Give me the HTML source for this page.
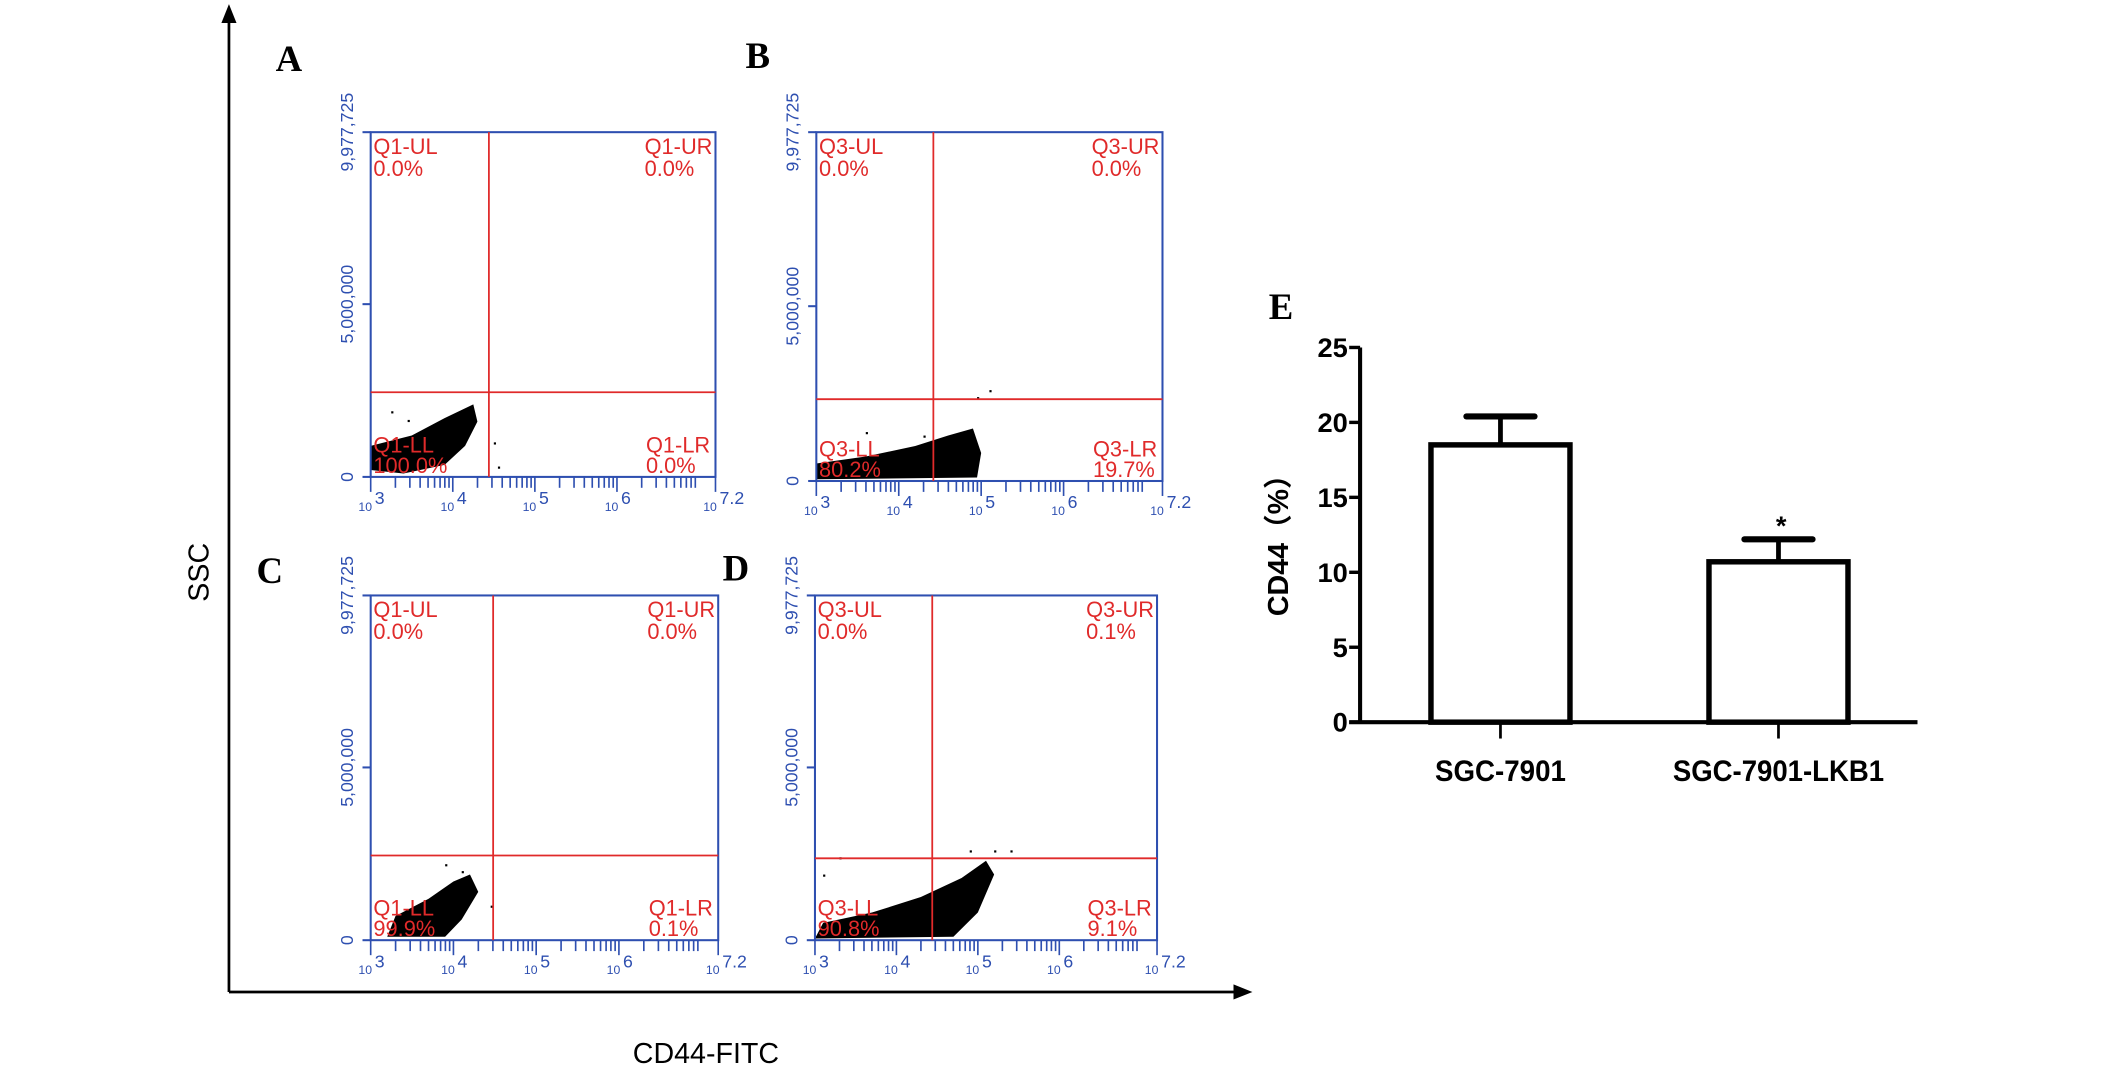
<!DOCTYPE html>
<html><head><meta charset="utf-8"><style>
html,body{margin:0;padding:0;background:#fff;}
svg{display:block;}
</style></head><body>
<svg id="fig" width="2126" height="1071" viewBox="0 0 1560 786" preserveAspectRatio="none" xmlns="http://www.w3.org/2000/svg">
<defs><marker id="arr" viewBox="0 0 10 10" refX="5" refY="5" markerWidth="7" markerHeight="9" orient="auto-start-reverse"><path d="M0,1 L10,5 L0,9 z" fill="#000"/></marker></defs>
<line x1="168" y1="728" x2="168" y2="10" stroke="#000" stroke-width="2" marker-end="url(#arr)"/>
<line x1="168" y1="728" x2="912" y2="728" stroke="#000" stroke-width="2" marker-end="url(#arr)"/>
<text transform="translate(153,420) rotate(-90)" text-anchor="middle" font-family="Liberation Sans, sans-serif" font-size="21">SSC</text>
<text x="518" y="780" text-anchor="middle" font-family="Liberation Sans, sans-serif" font-size="21">CD44-FITC</text>
<g id="panels"></g>
<g id="barchart"></g>
</svg>
<script>
const NS='http://www.w3.org/2000/svg';
const panelLetters=['A','B','C','D'];
const quadPrefix=['Q1','Q3','Q1','Q3'];
const quadUL=['0.0%','0.0%','0.0%','0.0%'];
const quadUR=['0.0%','0.0%','0.0%','0.1%'];
const quadLL=['100.0%','80.2%','99.9%','90.8%'];
const quadLR=['0.0%','19.7%','0.1%','9.1%'];
const gateX=[4.44,4.42,4.48,4.44];
const gateY=[2.45,2.34,2.45,2.37];
const cloudA=[[3.0,0.2],[3.0,0.9],[3.5,1.2],[3.9,1.7],[4.25,2.1],[4.3,1.6],[4.15,0.9],[3.9,0.35],[3.4,0.1]];
const cloudB=[[3.0,0.05],[3.0,0.5],[3.6,0.7],[4.2,1.0],[4.6,1.3],[4.9,1.5],[5.0,0.8],[4.95,0.1]];
const cloudC=[[3.2,0.1],[3.3,0.7],[3.7,1.2],[4.0,1.7],[4.2,1.9],[4.3,1.4],[4.1,0.6],[3.9,0.1]];
const cloudD=[[3.0,0.05],[3.1,0.5],[3.7,0.8],[4.3,1.25],[4.8,1.8],[5.1,2.3],[5.2,1.9],[5.0,0.8],[4.7,0.1]];
const clouds=[cloudA,cloudB,cloudC,cloudD];
const strayPts=[[[3.25,1.9],[3.45,1.65],[4.5,1.0],[4.55,0.3]],[[3.6,1.4],[4.3,1.3],[4.95,2.4],[5.1,2.6]],[[4.45,1.0],[4.1,2.0],[3.9,2.2]],[[3.1,1.9],[3.3,2.4],[4.9,2.6],[5.2,2.6],[5.4,2.6]]];
const xTickLabels=['3','4','5','6','7.2'];
const xTickVals=[3,4,5,6,7.2];
const yTickLabels=['0','5,000,000','9,977,725'];
const yTickVals=[0,5,9.977725];
const boxes=[[272,97,525,350],[599,97,853,353],[272,437,527,690],[598,437,849,690]];
const letterPos=[[212,52],[556,50],[198,428],[540,426]];

const g=document.getElementById('panels');
function mk(tag,attrs,parent){const e=document.createElementNS(NS,tag);for(const k in attrs)e.setAttribute(k,attrs[k]);(parent||g).appendChild(e);return e;}
const blue='#2e4fb0',red='#e02a2a';
boxes.forEach((b,i)=>{
  const [x0,y0,x1,y1]=b;
  const sx=v=>x0+(v-3)/4.2*(x1-x0);
  const sy=v=>y1-v/9.977725*(y1-y0);
  const pg=mk('g',{});
  
  
  const lt=mk('text',{x:letterPos[i][0],y:letterPos[i][1],'text-anchor':'middle','font-family':'Liberation Serif, serif','font-weight':'bold','font-size':'27'},pg);
  lt.textContent=panelLetters[i];
  
  
  const poly=mk('polygon',{points:clouds[i].map(p=>sx(p[0])+','+sy(p[1])).join(' '),fill:'#000'},pg);
  
  
  strayPts[i].forEach(p=>{const r=mk('rect',{x:sx(p[0]),y:sy(p[1]),width:1.6,height:1.6,fill:'#000'},pg);
    });
  const frame=mk('rect',{x:x0,y:y0,width:x1-x0,height:y1-y0,fill:'none',stroke:blue,'stroke-width':1.5},pg);
  
  const gv=mk('line',{x1:sx(gateX[i]),y1:y0,x2:sx(gateX[i]),y2:y1,stroke:red,'stroke-width':1.3},pg);
  
  const gh=mk('line',{x1:x0,y1:sy(gateY[i]),x2:x1,y2:sy(gateY[i]),stroke:red,'stroke-width':1.3},pg);
  
  const q=quadPrefix[i];
  const labs=[[x0+2,y0+16,q+'-UL'],[x0+2,y0+32,quadUL[i]],[x1-52,y0+16,q+'-UR'],[x1-52,y0+32,quadUR[i]],
    [x0+2,y1-18,q+'-LL'],[x0+2,y1-3,quadLL[i]],[x1-51,y1-18,q+'-LR'],[x1-51,y1-3,quadLR[i]]];
  labs.forEach(l=>{const t=mk('text',{x:l[0],y:l[1],'text-anchor':'start','font-family':'Liberation Sans, sans-serif','font-size':'16',fill:red},pg);
    t.textContent=l[2];});
  yTickVals.forEach((v,k)=>{mk('line',{x1:x0-6,y1:sy(v),x2:x0,y2:sy(v),stroke:blue,'stroke-width':1.5},pg);
    const t=mk('text',{transform:`translate(${x0-13},${sy(v)}) rotate(-90)`,'text-anchor':'middle','font-family':'Liberation Sans, sans-serif','font-size':'13',fill:blue},pg);
    t.textContent=yTickLabels[k];});
  for(let d=3;d<7;d++){for(let m=1;m<10;m++){const lv=d+Math.log10(m);if(lv>7.2)break;
    mk('line',{x1:sx(lv),y1:y1,x2:sx(lv),y2:y1+(m==1?11:8),stroke:blue,'stroke-width':1.2},pg);}}
  mk('line',{x1:sx(7.2),y1:y1,x2:sx(7.2),y2:y1+11,stroke:blue,'stroke-width':1.2},pg);
  xTickVals.forEach((v,k)=>{const t=mk('text',{x:sx(v)-4,y:y1+25,'text-anchor':'middle','font-family':'Liberation Sans, sans-serif','font-size':'9',fill:blue},pg);
    t.textContent='10';
    const s=mk('text',{x:sx(v)+3,y:y1+20,'text-anchor':'start','font-family':'Liberation Sans, sans-serif','font-size':'13',fill:blue},pg);
    s.textContent=xTickLabels[k];});
});

// Bar chart E
const barCats=['SGC-7901','SGC-7901-LKB1'];
const barVals=[18.5,10.7];
const barErr=[1.9,1.5];
const barSig=['','*'];
const yTicks=[0,5,10,15,20,25];
const catWidths=[96,155];
const bg=document.getElementById('barchart');
const ax0=998,ay0=530,ay1=255,axR=1407;
const yv=v=>ay0-v/25*(ay0-ay1);
const bx=i=>1101+i*204;
const bw=102;
const eT=mk('text',{x:940,y:234,'text-anchor':'middle','font-family':'Liberation Serif, serif','font-weight':'bold','font-size':'27'},bg);
eT.textContent='E';
barVals.forEach((v,i)=>{
  const r=mk('rect',{x:bx(i)-bw/2,y:yv(v),width:bw,height:ay0-yv(v),fill:'#fff',stroke:'#000','stroke-width':4},bg);
  
  const e=mk('line',{x1:bx(i),y1:yv(v),x2:bx(i),y2:yv(v+barErr[i]),stroke:'#000','stroke-width':3.5},bg);
  
  const c=mk('line',{x1:bx(i)-25,y1:yv(v+barErr[i]),x2:bx(i)+25,y2:yv(v+barErr[i]),stroke:'#000','stroke-width':4.5,'stroke-linecap':'round'},bg);
  
  if(barSig[i]){const s=mk('text',{x:bx(i)+2,y:yv(v+barErr[i])-3,'text-anchor':'middle','font-family':'Liberation Sans, sans-serif','font-weight':'bold','font-size':'20'},bg);
    s.textContent=barSig[i];}
  mk('line',{x1:bx(i),y1:ay0,x2:bx(i),y2:ay0+12,stroke:'#000','stroke-width':2},bg);
  const t=mk('text',{x:bx(i)-catWidths[i]/2,y:573,'text-anchor':'start','font-family':'Liberation Sans, sans-serif','font-weight':'bold','font-size':'22',textLength:catWidths[i],lengthAdjust:'spacingAndGlyphs'},bg);
  t.textContent=barCats[i];
});
const ya=mk('line',{x1:ax0,y1:ay1,x2:ax0,y2:ay0,stroke:'#000','stroke-width':3},bg);

const xa=mk('line',{x1:ax0-8,y1:ay0,x2:axR,y2:ay0,stroke:'#000','stroke-width':3},bg);

yTicks.forEach(v=>{mk('line',{x1:ax0-8,y1:yv(v),x2:ax0,y2:yv(v),stroke:'#000','stroke-width':2.5},bg);
  const t=mk('text',{x:ax0-9,y:yv(v)+7,'text-anchor':'end','font-family':'Liberation Sans, sans-serif','font-weight':'bold','font-size':'20'},bg);
  t.textContent=v;});
const yt=mk('text',{transform:'translate(945,395) rotate(-90)','text-anchor':'middle','font-family':'Liberation Sans, Noto Sans CJK SC, sans-serif','font-weight':'bold','font-size':'21'},bg);
yt.textContent='CD44（%）';
</script>
</body></html>
